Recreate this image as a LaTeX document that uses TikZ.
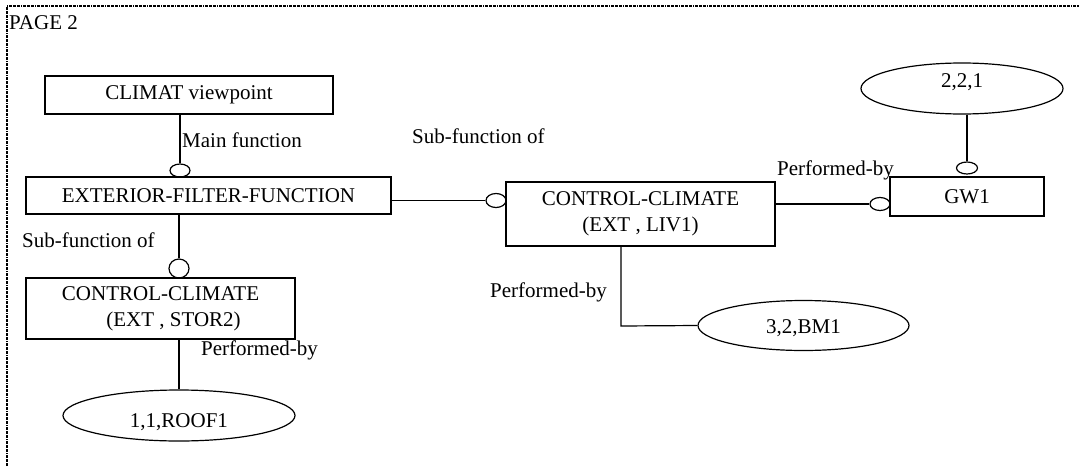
\documentclass[tikz,border=0pt]{standalone}
\usepackage{fontspec}
\setmainfont{Liberation Serif}
\usetikzlibrary{shapes.geometric}
\begin{document}
\begin{tikzpicture}[x=1pt,y=-1pt,
  every node/.style={font=\fontsize{21}{26}\selectfont},
  conn/.style={line width=1.2pt},
  framebox/.style={draw,line width=1.2pt,rectangle,inner sep=0pt,align=center},
  oval/.style={draw,line width=1.2pt,ellipse,inner sep=0pt},
  joint/.style={draw,line width=1.2pt,ellipse,inner sep=0pt,minimum width=20pt,minimum height=13pt},
  tag/.style={inner sep=0pt,anchor=base west},
  border/.style={line width=1.8pt,dash pattern=on 3pt off 1pt on 3pt off 1pt on 3pt off 1pt on 1pt off 1pt}]
\useasboundingbox (0,0) rectangle (1079,466);

% page frame
\draw[border] (7,466) -- (7,6) -- (1079,6);
\node[tag] (page) at (9,29) {PAGE 2};

% boxes
\node[framebox,minimum width=288pt,minimum height=38pt] (climat) at (189,95) {CLIMAT viewpoint};
\node[framebox,minimum width=365pt,minimum height=37pt] (eff) at (208.5,195.5) {EXTERIOR-FILTER-FUNCTION};
\node[framebox,minimum width=269pt,minimum height=64pt] (ccliv) at (640.5,214) {CONTROL-CLIMATE\\(EXT , LIV1)};
\node[framebox,minimum width=154pt,minimum height=39pt] (gw) at (967,196.5) {GW1};
\node[framebox,minimum width=269pt,minimum height=61pt] (ccstor) at (160.5,308.5) {CONTROL-CLIMATE\\\hspace*{26pt}(EXT , STOR2)};

% ellipses
\node[oval,minimum width=202pt,minimum height=51pt,text height=15pt,text depth=18pt] (e221) at (962,88.5) {2,2,1};
\node[oval,minimum width=211pt,minimum height=50pt,text height=18pt,text depth=2pt] (ebm) at (803.5,325.5) {3,2,BM1};
\node[oval,minimum width=232pt,minimum height=51pt,text height=25pt,text depth=2pt] (eroof) at (179,415.5) {1,1,ROOF1};

% link ends
\node[joint] (c1) at (180,170.5) {};
\node[joint,minimum height=14pt] (c2) at (496,200.5) {};
\node[joint] (c3) at (880,204) {};
\node[joint,minimum width=21pt,minimum height=12pt] (c4) at (967,168) {};
\node[joint,minimum width=20pt,minimum height=19pt] (c5) at (179,268.5) {};
\coordinate (bend) at (621,326);

% connectors
\draw[conn] (c1.north |- climat.south) -- (c1.north);
\draw[conn] (eff.east |- c2.west) -- (c2.west);
\draw[conn] (ccliv.east |- c3.west) -- (c3.west);
\draw[conn] (c4.north |- e221.south) -- (c4.north);
\draw[conn] (c5.north |- eff.south) -- (c5.north);
\draw[conn] (eroof.north |- ccstor.south) -- (eroof.north);
\draw[conn] (bend |- ccliv.south) -- (bend) -- (ebm.west);

% link labels
\begin{scope}
  \clip (170,120) rectangle (330,146.5);
  \node[tag] (lmain) at (182,147) {Main function};
\end{scope}
\node[tag] (lsub1) at (412,143) {Sub-function of};
\node[tag] (lsub2) at (22,247) {Sub-function of};
\node[tag] (lperf1) at (777,175) {Performed-by};
\node[tag] (lperf2) at (490,297) {Performed-by};
\node[tag] (lperf3) at (201,355) {Performed-by};
\end{tikzpicture}
\end{document}
